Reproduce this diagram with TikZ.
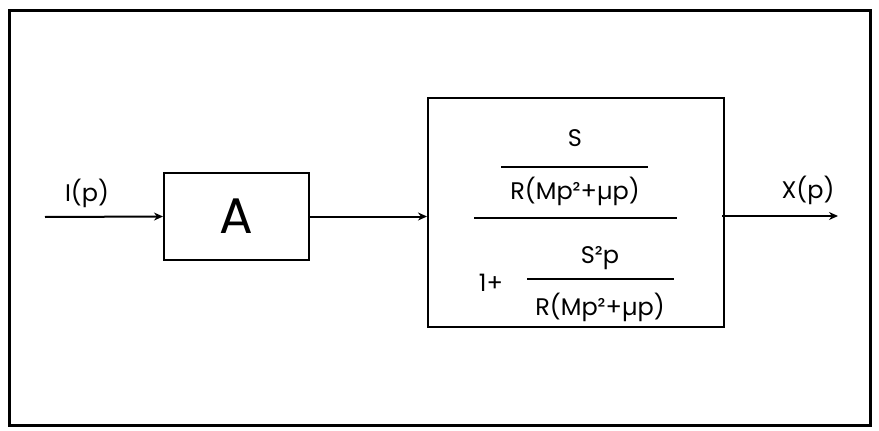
\documentclass[tikz,border=0pt]{standalone}
\usepackage{fontspec}
\setmainfont{Poppins}
\usetikzlibrary{arrows.meta}
\tikzstyle{block} = [rectangle, draw, line width=2pt, inner sep=0pt]
\tikzstyle{txt} = [inner sep=0pt, font=\fontsize{24}{27}\selectfont]
\tikzset{edge/.style = {
    line width=2pt,
    -{Stealth[length=9pt,width=8pt]},
  },
  bar/.style = {line width=2pt}
}

\begin{document}
\begin{tikzpicture}[x=1pt,y=-1pt]
            \useasboundingbox (0,0) rectangle (879,431);
            \draw[line width=3pt] (9,10) rectangle (870,425);

            % blocks
            \node[block, minimum width=145pt, minimum height=87pt] (a) at (236.5,216.5) {\fontsize{50}{54}\selectfont A};
            \node[block, minimum width=296pt, minimum height=229pt] (g) at (576,212.5) {};

            % texts
            \node[txt] (in) at (87,193) {I(p)};
            \node[txt] (out) at (808,190) {X(p)};
            \node[txt] (num) at (575,138) {S};
            \node[txt] (den) at (575,191) {R(Mp²+µp)};
            \node[txt] (one) at (491,283) {1+};
            \node[txt] (num2) at (600,258) {S²p};
            \node[txt] (den2) at (600,307) {R(Mp²+µp)};

            % fraction bars
            \draw[bar] (501,167) -- (648,167);
            \draw[bar] (474,218) -- (677,218);
            \draw[bar] (527,279) -- (674,279);

            %signal lines
            \coordinate (src) at (45,217);
            \coordinate (dst) at (838,216);
            \draw[edge] (src) -- (a.west);
            \draw[edge] (a.east) -- (a.east -| g.west);
            \draw[edge] ([xshift=-3pt]g.east |- dst) -- (dst);

          \end{tikzpicture}
\end{document}
